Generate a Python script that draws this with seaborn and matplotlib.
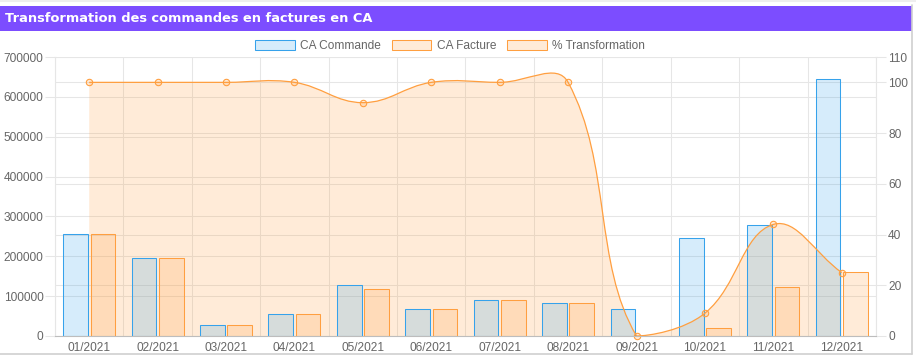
import numpy as np
import pandas as pd
import matplotlib
matplotlib.use("Agg")
import matplotlib.pyplot as plt
import seaborn as sns
from matplotlib.patches import Rectangle, Patch, PathPatch
from matplotlib.path import Path
from matplotlib.lines import Line2D
from matplotlib.transforms import blended_transform_factory

# ---------------- data ----------------
mois = ['01/2021', '02/2021', '03/2021', '04/2021', '05/2021', '06/2021',
        '07/2021', '08/2021', '09/2021', '10/2021', '11/2021', '12/2021']
ca_commande = [255000, 195000, 27000, 54500, 127000, 67000,
               89500, 83000, 67000, 245000, 277500, 645000]
ca_facture = [255000, 195000, 27000, 54500, 118000, 67000,
              89500, 83000, 0, 19000, 122000, 160000]
pct_transformation = [100, 100, 100, 100, 92, 100, 100, 100, 0, 9, 44, 25]

left_ticks = [0, 100000, 200000, 300000, 400000, 500000, 600000, 700000]
right_ticks = [0, 20, 40, 60, 80, 100, 110]
titre = "Transformation des commandes en factures en CA"
series_names = ["CA Commande", "CA Facture", "% Transformation"]

# ---------------- style ----------------
sns.set_style("white")
plt.rcParams['font.family'] = ['Liberation Sans', 'DejaVu Sans']

W, H = 916, 357
fig = plt.figure(figsize=(W / 100, H / 100), dpi=100)
fig.patch.set_facecolor("white")

BLUE = (54 / 255, 162 / 255, 235 / 255)
ORANGE = (255 / 255, 159 / 255, 64 / 255)
BLUE_F = BLUE + (0.2,)
ORANGE_F = ORANGE + (0.2,)
GRID = "#e6e6e6"
TXT = "#666666"
FS = 8.6

# plot area in pixels: x 55..876, y 57..336
L, R, T, B = 55, 876, 57, 336
ax = fig.add_axes([L / W, 1 - B / H, (R - L) / W, (B - T) / H])
ax2 = ax.twinx()
ax.patch.set_alpha(0)

df = pd.DataFrame({
    "mois": mois * 2,
    "valeur": ca_commande + ca_facture,
    "serie": [series_names[0]] * len(mois) + [series_names[1]] * len(mois),
})
sns.barplot(data=df, x="mois", y="valeur", hue="serie", order=mois,
            hue_order=series_names[:2], palette=[BLUE, ORANGE],
            width=0.8, gap=0.1, saturation=1, ax=ax, legend=False,
            linewidth=0.75, errorbar=None)
for cont, fc, ec in zip(ax.containers, [BLUE_F, ORANGE_F], [BLUE, ORANGE]):
    for p in cont.patches:
        p.set_facecolor(fc)
        p.set_edgecolor(ec)
        p.set_linewidth(0.75)
        p.set_zorder(2)

ax.set_xlim(-0.5, len(mois) - 0.5)
ax.set_ylim(0, 700000)
ax2.set_ylim(0, 110)
ax.set_xlabel("")
ax.set_ylabel("")

# ---------------- smoothed line (Chart.js style spline) ----------------
xs = np.arange(len(mois), dtype=float)
pts = ax2.transData.transform(np.column_stack([xs, pct_transformation]))
bb = ax.bbox
n = len(pts)
prev_c = np.zeros_like(pts)
next_c = np.zeros_like(pts)
tension = 0.4
for i in range(n):
    cur = pts[i]
    prv = pts[i - 1] if i > 0 else cur
    nxt = pts[i + 1] if i < n - 1 else cur
    d01 = np.hypot(*(cur - prv))
    d12 = np.hypot(*(nxt - cur))
    tot = d01 + d12
    s01 = d01 / tot if tot else 0
    s12 = d12 / tot if tot else 0
    prev_c[i] = cur - tension * s01 * (nxt - prv)
    next_c[i] = cur + tension * s12 * (nxt - prv)
for arr in (prev_c, next_c):
    arr[:, 0] = np.clip(arr[:, 0], bb.x0, bb.x1)
    arr[:, 1] = np.clip(arr[:, 1], bb.y0, bb.y1)

verts = [pts[0]]
codes = [Path.MOVETO]
for i in range(n - 1):
    verts += [next_c[i], prev_c[i + 1], pts[i + 1]]
    codes += [Path.CURVE4] * 3
inv = ax2.transData.inverted()
curve = inv.transform(np.array(verts))

fill_verts = np.vstack([curve, [[xs[-1], 0], [xs[0], 0], [xs[0], pct_transformation[0]]]])
fill_codes = codes + [Path.LINETO, Path.LINETO, Path.CLOSEPOLY]
ax.add_patch(PathPatch(Path(fill_verts, fill_codes), facecolor=ORANGE_F,
                       edgecolor="none", transform=ax2.transData, zorder=1))
ax.add_patch(PathPatch(Path(curve, codes), facecolor="none", edgecolor=ORANGE,
                       lw=0.9, transform=ax2.transData, zorder=3))
ax.plot(xs, pct_transformation, linestyle="none", marker="o", markersize=4.6,
        markerfacecolor=ORANGE_F, markeredgecolor=ORANGE, markeredgewidth=0.8,
        transform=ax2.transData, zorder=4, clip_on=False)
ax.set_xlim(-0.5, len(mois) - 0.5)
ax.set_ylim(0, 700000)

# ---------------- grids / ticks ----------------
ax.set_axisbelow(True)
ax.set_yticks(left_ticks)
ax.set_yticklabels([str(v) for v in left_ticks])
ax.yaxis.grid(True, color=GRID, lw=0.75)
ax.set_xticks(xs)
ax.set_xticklabels(mois)
ax.set_xticks(np.arange(-0.5, len(mois), 1.0), minor=True)
ax.xaxis.grid(True, which="minor", color=GRID, lw=0.75)
ax.xaxis.grid(False, which="major")
blend = blended_transform_factory(ax.transAxes, ax2.transData)
for v in right_ticks:
    ax.plot([0, 1], [v, v], transform=blend, color=GRID, lw=0.75, zorder=0.6)

ax.tick_params(axis="y", length=7.2, width=0.75, color=GRID, labelcolor=TXT,
               labelsize=FS, pad=1.0)
ax.tick_params(axis="x", which="major", length=0, labelcolor=TXT,
               labelsize=FS, pad=4)
ax.tick_params(axis="x", which="minor", length=6, width=0.75, color=GRID)
ax2.set_yticks(right_ticks)
ax2.set_yticklabels([str(v) for v in right_ticks])
ax2.tick_params(axis="y", length=7.2, width=0.75, color=GRID, labelcolor=TXT,
                labelsize=FS, pad=1.5)
ax2.grid(False)

for a in (ax, ax2):
    a.spines["top"].set_visible(False)
    a.spines["left"].set_color(GRID)
    a.spines["right"].set_color(GRID)
    a.spines["bottom"].set_color("#bdbdbd")
    for s in a.spines.values():
        s.set_linewidth(0.75)

# ---------------- legend ----------------
handles = [Patch(facecolor=BLUE_F, edgecolor=BLUE, lw=0.75),
           Patch(facecolor=ORANGE_F, edgecolor=ORANGE, lw=0.75),
           Patch(facecolor=ORANGE_F, edgecolor=ORANGE, lw=0.75)]
fig.legend(handles, series_names, loc="center", bbox_to_anchor=(450 / W, 1 - 46 / H),
           ncol=3, frameon=False, fontsize=FS, labelcolor=TXT,
           handlelength=3.33, handleheight=0.83, handletextpad=0.45,
           columnspacing=0.9, borderaxespad=0, borderpad=0)

# ---------------- card + title bar ----------------
fig.patches.append(Rectangle((0, 1 - 30.5 / H), 912 / W, 24.5 / H,
                             transform=fig.transFigure, facecolor="#7c4dff",
                             edgecolor="none", zorder=0))
fig.text(5 / W, 1 - 18.5 / H, titre, color="white", fontsize=9.4,
         fontweight="bold", va="center", ha="left", family="DejaVu Sans")
fig.add_artist(Line2D([912 / W, 912 / W], [1 - 354 / H, 1 - 5 / H],
                      transform=fig.transFigure, color="#d0d0d0", lw=1.2))
fig.add_artist(Line2D([0, 912 / W], [1 - 354 / H, 1 - 354 / H],
                      transform=fig.transFigure, color="#d0d0d0", lw=1.2))
fig.add_artist(Line2D([0, 1], [1 - 1 / H, 1 - 1 / H],
                      transform=fig.transFigure, color="#eeeeee", lw=1.5))

fig.savefig("out.png", dpi=100)
